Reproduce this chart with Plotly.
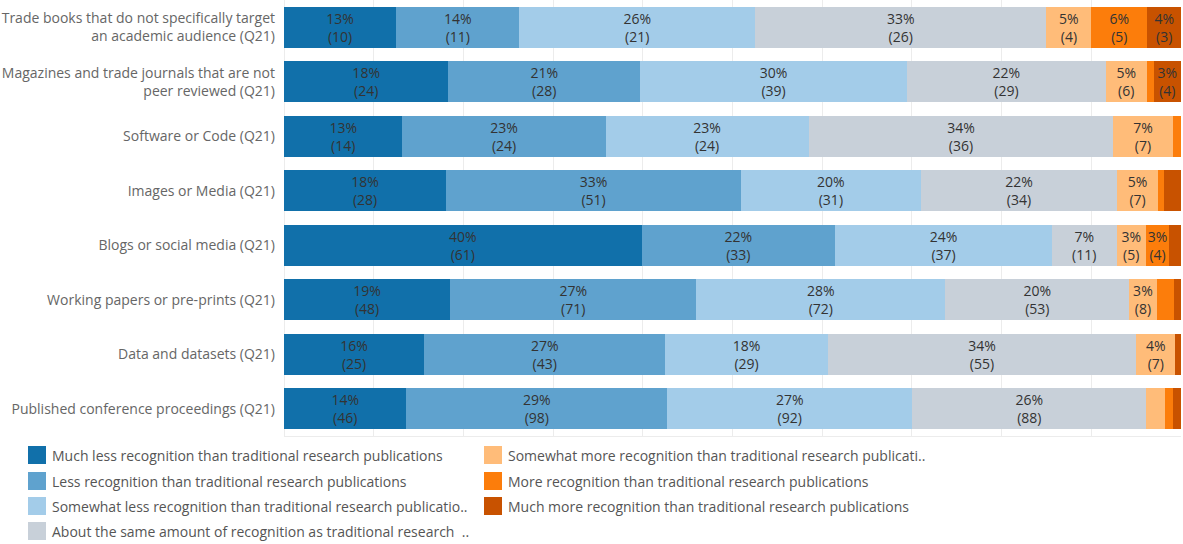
import math
import plotly.graph_objects as go

# Survey items (top to bottom)
categories = [
    "Trade books that do not specifically target<br>an academic audience (Q21)",
    "Magazines and trade journals that are not<br>peer reviewed (Q21)",
    "Software or Code (Q21)",
    "Images or Media (Q21)",
    "Blogs or social media (Q21)",
    "Working papers or pre-prints (Q21)",
    "Data and datasets (Q21)",
    "Published conference proceedings (Q21)",
]

# Response levels, in stacking order
series_names = [
    "Much less recognition than traditional research publications",
    "Less recognition than traditional research publications",
    "Somewhat less recognition than traditional research publications",
    "About the same amount of recognition as traditional research publications",
    "Somewhat more recognition than traditional research publications",
    "More recognition than traditional research publications",
    "Much more recognition than traditional research publications",
]
legend_labels = [
    "Much less recognition than traditional research publications",
    "Less recognition than traditional research publications",
    "Somewhat less recognition than traditional research publicatio..",
    "About the same amount of recognition as traditional research  ..",
    "Somewhat more recognition than traditional research publicati..",
    "More recognition than traditional research publications",
    "Much more recognition than traditional research publications",
]
colors = ["#1170aa", "#5fa2ce", "#a3cce9", "#c8d0d9", "#ffbc79", "#fc7d0b", "#c85200"]

# Respondent counts per level, one list per level, ordered like categories
much_less     = [10, 24, 14, 28, 61, 48, 25, 46]
less          = [11, 28, 24, 51, 33, 71, 43, 98]
somewhat_less = [21, 39, 24, 31, 37, 72, 29, 92]
about_same    = [26, 29, 36, 34, 11, 53, 55, 88]
somewhat_more = [4, 6, 7, 7, 5, 8, 7, 7]
more          = [5, 1, 1, 1, 4, 5, 0, 3]
much_more     = [3, 4, 0, 3, 2, 2, 1, 3]

counts = [much_less, less, somewhat_less, about_same, somewhat_more, more, much_more]
totals = [sum(level[i] for level in counts) for i in range(len(categories))]

W, H = 1183, 544
L, R, T, B = 284, 2, 0, 108
plot_w = W - L - R
plot_h = H - T - B

font_family = "'Open Sans', 'Noto Sans', sans-serif"

fig = go.Figure()
for name, color, vals in zip(series_names, colors, counts):
    shares = [v / t for v, t in zip(vals, totals)]
    labels = []
    for v, s in zip(vals, shares):
        if s * 100 >= 2.5:
            pct = int(math.floor(s * 100 + 0.5))
            labels.append(f"{pct}%<br>({v})")
        else:
            labels.append("")
    fig.add_trace(go.Bar(
        name=name,
        y=categories,
        x=shares,
        orientation="h",
        marker=dict(color=color, line=dict(width=0)),
        text=labels,
        texttemplate="%{text}",
        textposition="inside",
        insidetextanchor="middle",
        constraintext="none",
        textangle=0,
        textfont=dict(family=font_family, size=14, color="#333333"),
        showlegend=False,
        hoverinfo="skip",
    ))

# Legend drawn as swatches and labels below the plot, in two columns
def px_x(x):
    return (x - L) / plot_w

def px_y(y):
    return (T + plot_h - y) / plot_h

legend_rows = [455, 481, 506, 531]
legend_cols = [28, 484]
shapes = []
annotations = []
for i, (label, color) in enumerate(zip(legend_labels, colors)):
    col = 0 if i < 4 else 1
    row = i if i < 4 else i - 4
    x0 = legend_cols[col]
    yc = legend_rows[row]
    shapes.append(dict(
        type="rect", xref="paper", yref="paper",
        x0=px_x(x0), x1=px_x(x0 + 18),
        y0=px_y(yc + 9), y1=px_y(yc - 9),
        fillcolor=color, line=dict(width=0), layer="above",
    ))
    annotations.append(dict(
        xref="paper", yref="paper",
        x=px_x(x0 + 22), y=px_y(yc),
        xanchor="left", yanchor="middle",
        text=label, showarrow=False,
        font=dict(family=font_family, size=14, color="#555555"),
    ))

fig.update_layout(
    width=W, height=H,
    margin=dict(l=L, r=R, t=T, b=B),
    barmode="stack",
    bargap=0.25,
    plot_bgcolor="white",
    paper_bgcolor="white",
    shapes=shapes,
    annotations=annotations,
    xaxis=dict(
        range=[0, 1],
        dtick=0.1,
        showgrid=True,
        gridcolor="#ececec",
        gridwidth=1,
        zeroline=True,
        zerolinecolor="#ececec",
        zerolinewidth=1,
        showline=True,
        linecolor="#ececec",
        showticklabels=False,
        ticks="",
        fixedrange=True,
    ),
    yaxis=dict(
        autorange="reversed",
        showgrid=False,
        zeroline=False,
        ticks="",
        ticklabelstandoff=8,
        tickfont=dict(family=font_family, size=14, color="#666666"),
        fixedrange=True,
    ),
    font=dict(family=font_family),
)

fig.write_html("out.html")
